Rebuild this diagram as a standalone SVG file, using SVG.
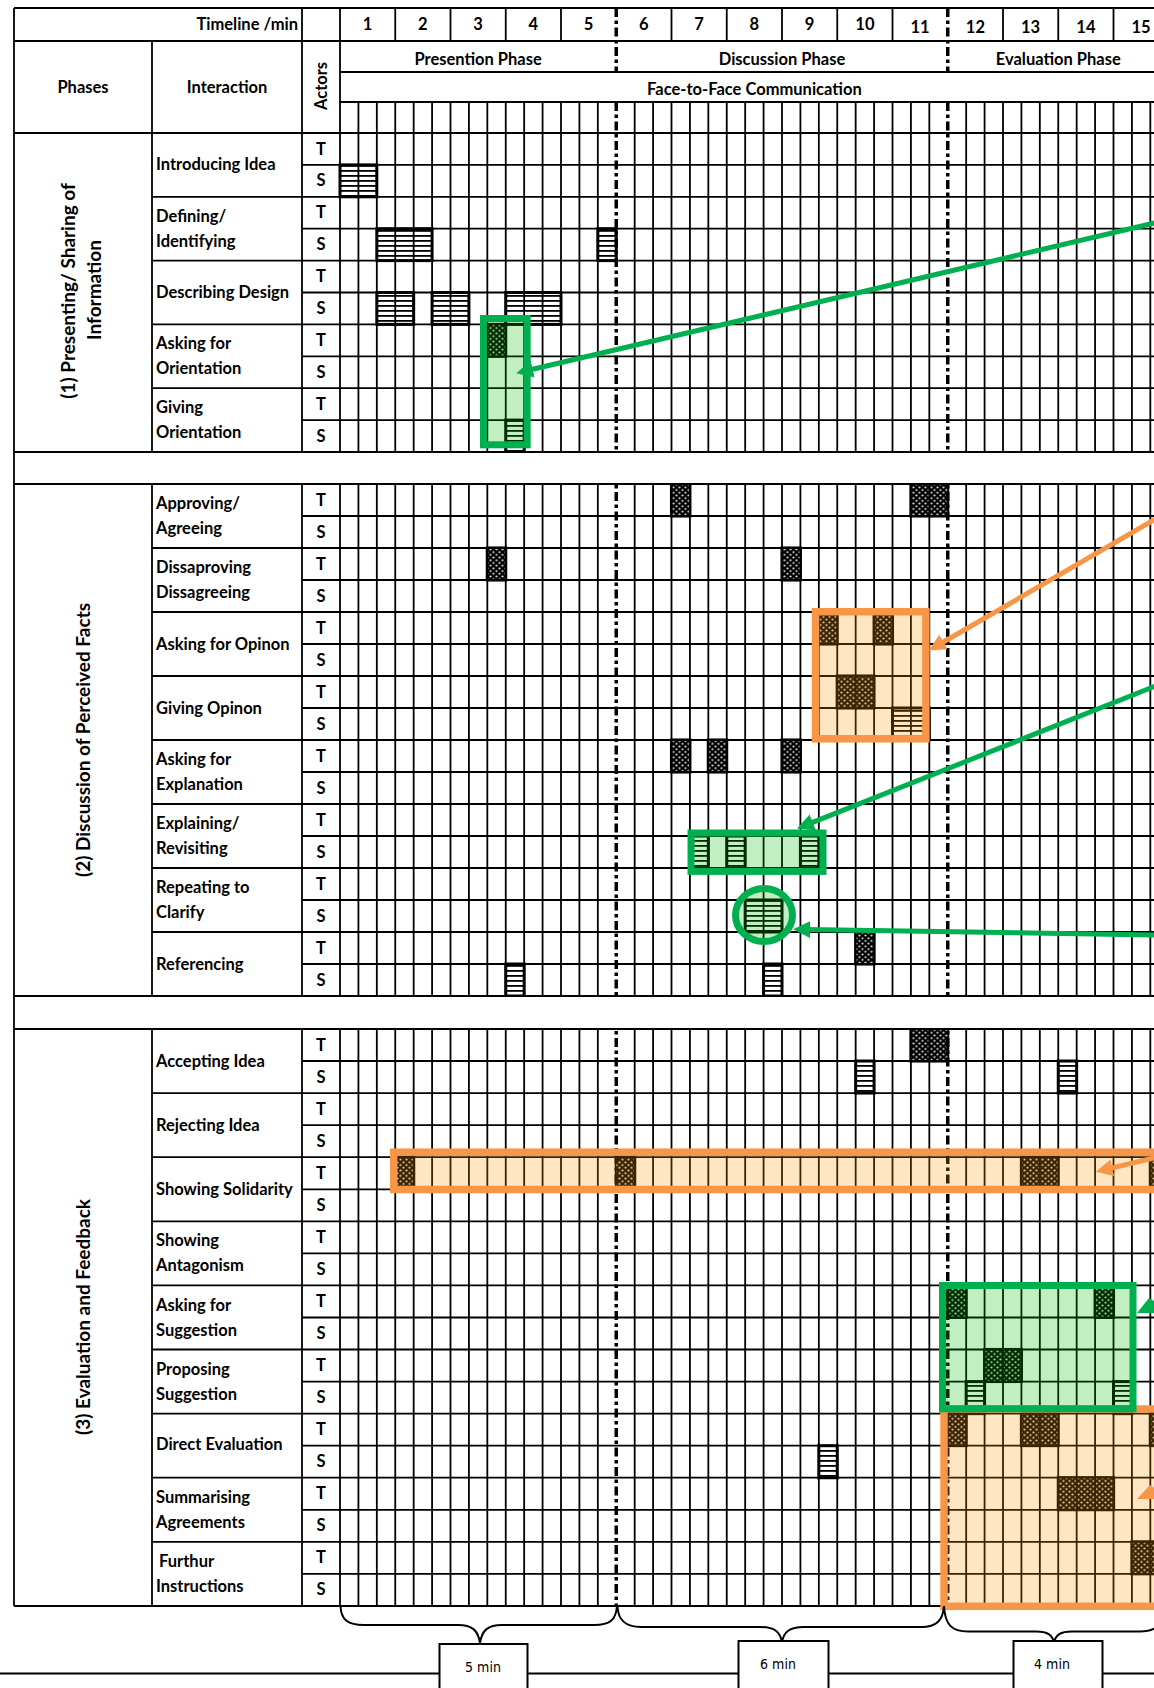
<svg xmlns="http://www.w3.org/2000/svg" width="1154" height="1688" viewBox="0 0 1154 1688">
<style>
.txt{font-family:Lato,"Open Sans","Liberation Sans",sans-serif;font-weight:700;font-size:16.5px;fill:#000}
.big{font-size:19px}
.mid{text-anchor:middle}
.end{text-anchor:end}
.ln{stroke:#000;stroke-width:1.8;fill:none}
.dash{stroke:#000;stroke-width:3.5;fill:none;stroke-dasharray:9 3.5 3.5 3.5}
.t{fill:url(#dots);stroke:#000;stroke-width:1.5}
.s{fill:url(#stripes);stroke:#000;stroke-width:3}
.gfill{fill:#00be00;fill-opacity:.24}
.ofill{fill:#ff9600;fill-opacity:.24}
.gframe{fill:none;stroke:#00b050;stroke-width:7}
.oframe{fill:none;stroke:#f79646;stroke-width:7.5}
.garrow{stroke:#00b050;stroke-width:5;fill:none;marker-end:url(#ahG)}
.oarrow{stroke:#f79646;stroke-width:5;fill:none;marker-end:url(#ahO)}
.brace{stroke:#000;stroke-width:2;fill:none}
.dur{font-family:"DejaVu Sans Condensed","Liberation Sans Narrow","Liberation Sans",sans-serif;font-stretch:condensed;font-size:14px;fill:#000;text-anchor:middle}
</style>
<defs>
  <pattern id="stripes" patternUnits="userSpaceOnUse" width="8" height="5">
    <rect width="8" height="5" fill="#fff"/>
    <rect width="8" height="1.8" fill="#000"/>
  </pattern>
  <pattern id="dots" patternUnits="userSpaceOnUse" width="6" height="5.4">
    <rect width="6" height="5.4" fill="#000"/>
    <ellipse cx="1.5" cy="1.3" rx="1.2" ry="0.85" fill="#d9d9d9"/>
    <ellipse cx="4.5" cy="4" rx="1.2" ry="0.85" fill="#d9d9d9"/>
  </pattern>
  <marker id="ahG" markerUnits="userSpaceOnUse" markerWidth="17" markerHeight="17" viewBox="0 0 16 16" refX="2" refY="8" orient="auto">
    <path d="M0,0 L16,8 L0,16 z" fill="#00b050"/>
  </marker>
  <marker id="ahO" markerUnits="userSpaceOnUse" markerWidth="17" markerHeight="17" viewBox="0 0 16 16" refX="2" refY="8" orient="auto">
    <path d="M0,0 L16,8 L0,16 z" fill="#f79646"/>
  </marker>
</defs>

<rect width="1154" height="1688" fill="#fff"/>

<!-- coded events: T = dark dotted, S = striped -->
<g id="events">
  <rect class="t" x="486.5" y="323.6" width="20" height="33.5"/>
  <rect class="t" x="670.7" y="483.2" width="20" height="33.6"/>
  <rect class="t" x="910.1" y="483.2" width="38.4" height="33.6"/>
  <rect class="t" x="486.5" y="547.2" width="20" height="33.6"/>
  <rect class="t" x="781.2" y="547.2" width="20" height="33.6"/>
  <rect class="t" x="818" y="611.2" width="20" height="33.6"/>
  <rect class="t" x="873.3" y="611.2" width="20" height="33.6"/>
  <rect class="t" x="836.4" y="675.2" width="38.4" height="33.6"/>
  <rect class="t" x="670.7" y="739.2" width="20" height="33.6"/>
  <rect class="t" x="707.5" y="739.2" width="20" height="33.6"/>
  <rect class="t" x="781.2" y="739.2" width="20" height="33.6"/>
  <rect class="t" x="854.9" y="931.2" width="20" height="33.6"/>
  <rect class="t" x="910.1" y="1028.2" width="38.4" height="33.6"/>
  <rect class="t" x="394.5" y="1156.4" width="20" height="33.6"/>
  <rect class="t" x="615.5" y="1156.4" width="20" height="33.6"/>
  <rect class="t" x="1020.6" y="1156.4" width="38.4" height="33.6"/>
  <rect class="t" x="1149.5" y="1156.4" width="20" height="33.6"/>
  <rect class="t" x="947" y="1284.6" width="20" height="33.6"/>
  <rect class="t" x="1094.3" y="1284.6" width="20" height="33.6"/>
  <rect class="t" x="983.8" y="1348.7" width="38.4" height="33.6"/>
  <rect class="t" x="947" y="1412.8" width="20" height="33.6"/>
  <rect class="t" x="1020.6" y="1412.8" width="38.4" height="33.6"/>
  <rect class="t" x="1149.5" y="1412.8" width="20" height="33.6"/>
  <rect class="t" x="1057.5" y="1476.9" width="56.9" height="33.6"/>
  <rect class="t" x="1131.1" y="1541" width="38.4" height="33.6"/>

  <rect class="s" x="340" y="164.9" width="36.83" height="31.9"/>
  <rect class="s" x="376.83" y="228.7" width="55.25" height="31.9"/>
  <rect class="s" x="597.83" y="228.7" width="18.42" height="31.9"/>
  <rect class="s" x="376.83" y="292.5" width="36.83" height="31.9"/>
  <rect class="s" x="432.08" y="292.5" width="36.83" height="31.9"/>
  <rect class="s" x="505.75" y="292.5" width="55.25" height="31.9"/>
  <rect class="s" x="505.75" y="420.1" width="18.42" height="31.9"/>
  <rect class="s" x="892.5" y="708" width="36.83" height="32"/>
  <rect class="s" x="689.92" y="836" width="18.42" height="32"/>
  <rect class="s" x="726.75" y="836" width="18.42" height="32"/>
  <rect class="s" x="800.42" y="836" width="18.42" height="32"/>
  <rect class="s" x="745.17" y="900" width="36.83" height="32"/>
  <rect class="s" x="505.75" y="964" width="18.42" height="32"/>
  <rect class="s" x="763.58" y="964" width="18.42" height="32"/>
  <rect class="s" x="855.67" y="1061" width="18.42" height="32.05"/>
  <rect class="s" x="1058.25" y="1061" width="18.42" height="32.05"/>
  <rect class="s" x="966.17" y="1381.6" width="18.42" height="32.05"/>
  <rect class="s" x="1113.5" y="1381.6" width="18.42" height="32.05"/>
  <rect class="s" x="818.83" y="1445.7" width="18.42" height="32.05"/>
</g>

<!-- table rules -->
<g id="grid">
  <path class="ln" d="M14 8V1606M152 41V1606M302 8V1606M340 8V1606
  M395.25 8V41M450.5 8V41M505.75 8V41M561 8V41M671.5 8V41M726.75 8V41M782 8V41M837.25 8V41M892.5 8V41M1003 8V41M1058.25 8V41M1113.5 8V41
  M358.42 102V1606M376.83 102V1606M395.25 102V1606M413.67 102V1606M432.08 102V1606M450.5 102V1606M468.92 102V1606M487.33 102V1606M505.75 102V1606M524.17 102V1606
  M542.58 102V1606M561 102V1606M579.42 102V1606M597.83 102V1606M634.67 102V1606M653.08 102V1606M671.5 102V1606M689.92 102V1606M708.33 102V1606M726.75 102V1606
  M745.17 102V1606M763.58 102V1606M782 102V1606M800.42 102V1606M818.83 102V1606M837.25 102V1606M855.67 102V1606M874.08 102V1606M892.5 102V1606M910.92 102V1606
  M929.33 102V1606M966.17 102V1606M984.58 102V1606M1003 102V1606M1021.42 102V1606M1039.83 102V1606M1058.25 102V1606M1076.67 102V1606M1095.08 102V1606M1113.5 102V1606
  M1131.92 102V1606M1150.33 102V1606"/>
  <path class="dash" d="M616.25 8V72M616.25 102V1606M947.75 8V72M947.75 102V1606"/>
  <rect x="15" y="453" width="1160" height="30" fill="#fff"/>
  <rect x="15" y="997" width="1160" height="31" fill="#fff"/>
  <path class="ln" d="M14 8H1169M14 41H1169M340 72H1169M340 102H1169
  M14 133H1169M302 164.9H1169M152 196.8H1169M302 228.7H1169M152 260.6H1169M302 292.5H1169M152 324.4H1169M302 356.3H1169M152 388.2H1169M302 420.1H1169M14 452H1169
  M14 484H1169M302 516H1169M152 548H1169M302 580H1169M152 612H1169M302 644H1169M152 676H1169M302 708H1169M152 740H1169M302 772H1169M152 804H1169M302 836H1169M152 868H1169M302 900H1169M152 932H1169M302 964H1169M14 996H1169
  M14 1029H1169M302 1061H1169M152 1093.1H1169M302 1125.2H1169M152 1157.2H1169M302 1189.3H1169M152 1221.3H1169M302 1253.4H1169M152 1285.4H1169M302 1317.5H1169M152 1349.5H1169M302 1381.6H1169M152 1413.6H1169M302 1445.7H1169M152 1477.7H1169M302 1509.8H1169M152 1541.8H1169M302 1573.9H1169M14 1606H1169"/>
</g>

<!-- header -->
<g id="header" class="txt">
  <text class="end" x="298" y="30">Timeline /min</text>
  <text class="mid" x="367.6" y="30">1</text>
  <text class="mid" x="422.9" y="30">2</text>
  <text class="mid" x="478.1" y="30">3</text>
  <text class="mid" x="533.4" y="30">4</text>
  <text class="mid" x="588.6" y="30">5</text>
  <text class="mid" x="643.9" y="30">6</text>
  <text class="mid" x="699.1" y="30">7</text>
  <text class="mid" x="754.4" y="30">8</text>
  <text class="mid" x="809.6" y="30">9</text>
  <text class="mid" x="864.9" y="30">10</text>
  <text class="mid" x="920.1" y="32.5">11</text>
  <text class="mid" x="975.4" y="32.5">12</text>
  <text class="mid" x="1030.6" y="32.5">13</text>
  <text class="mid" x="1085.9" y="32.5">14</text>
  <text class="mid" x="1141.1" y="32.5">15</text>
  <text class="mid" x="478.1" y="65">Presention Phase</text>
  <text class="mid" x="782" y="65">Discussion Phase</text>
  <text class="mid" x="1058.25" y="65">Evaluation Phase</text>
  <text class="mid" x="754.4" y="95">Face-to-Face Communication</text>
  <text class="mid" x="83" y="93">Phases</text>
  <text class="mid" x="227" y="93">Interaction</text>
  <text class="mid" transform="translate(327,86) rotate(-90)">Actors</text>
</g>

<!-- phase 1 -->
<g id="phase-1" class="txt">
  <text class="mid big" transform="translate(75,291) rotate(-90)">(1) Presenting/ Sharing of</text>
  <text class="mid big" transform="translate(101,290) rotate(-90)">Information</text>
  <text x="156" y="170.4">Introducing Idea</text>
  <text x="156" y="221.7">Defining/</text>
  <text x="156" y="246.7">Identifying</text>
  <text x="156" y="298">Describing Design</text>
  <text x="156" y="349.3">Asking for</text>
  <text x="156" y="374.3">Orientation</text>
  <text x="156" y="413.1">Giving</text>
  <text x="156" y="438.1">Orientation</text>
  <g class="mid">
    <text x="321" y="154.5">T</text><text x="321" y="186.4">S</text>
    <text x="321" y="218.3">T</text><text x="321" y="250.2">S</text>
    <text x="321" y="282.1">T</text><text x="321" y="314">S</text>
    <text x="321" y="345.9">T</text><text x="321" y="377.8">S</text>
    <text x="321" y="409.7">T</text><text x="321" y="441.6">S</text>
  </g>
</g>

<!-- phase 2 -->
<g id="phase-2" class="txt">
  <text class="mid big" transform="translate(90,740) rotate(-90)">(2) Discussion of Perceived Facts</text>
  <text x="156" y="509">Approving/</text>
  <text x="156" y="534">Agreeing</text>
  <text x="156" y="573">Dissaproving</text>
  <text x="156" y="598">Dissagreeing</text>
  <text x="156" y="649.5">Asking for Opinon</text>
  <text x="156" y="713.5">Giving Opinon</text>
  <text x="156" y="765">Asking for</text>
  <text x="156" y="790">Explanation</text>
  <text x="156" y="829">Explaining/</text>
  <text x="156" y="854">Revisiting</text>
  <text x="156" y="893">Repeating to</text>
  <text x="156" y="918">Clarify</text>
  <text x="156" y="969.5">Referencing</text>
  <g class="mid">
    <text x="321" y="505.5">T</text><text x="321" y="537.5">S</text>
    <text x="321" y="569.5">T</text><text x="321" y="601.5">S</text>
    <text x="321" y="633.5">T</text><text x="321" y="665.5">S</text>
    <text x="321" y="697.5">T</text><text x="321" y="729.5">S</text>
    <text x="321" y="761.5">T</text><text x="321" y="793.5">S</text>
    <text x="321" y="825.5">T</text><text x="321" y="857.5">S</text>
    <text x="321" y="889.5">T</text><text x="321" y="921.5">S</text>
    <text x="321" y="953.5">T</text><text x="321" y="985.5">S</text>
  </g>
</g>

<!-- phase 3 -->
<g id="phase-3" class="txt">
  <text class="mid big" transform="translate(90,1317) rotate(-90)">(3) Evaluation and Feedback</text>
  <text x="156" y="1066.5">Accepting Idea</text>
  <text x="156" y="1130.7">Rejecting Idea</text>
  <text x="156" y="1194.8">Showing Solidarity</text>
  <text x="156" y="1246.4">Showing</text>
  <text x="156" y="1271.4">Antagonism</text>
  <text x="156" y="1310.5">Asking for</text>
  <text x="156" y="1335.5">Suggestion</text>
  <text x="156" y="1374.6">Proposing</text>
  <text x="156" y="1399.6">Suggestion</text>
  <text x="156" y="1450">Direct Evaluation</text>
  <text x="156" y="1502.8">Summarising</text>
  <text x="156" y="1527.8">Agreements</text>
  <text x="159" y="1566.9">Furthur</text>
  <text x="156" y="1591.9">Instructions</text>
  <g class="mid">
    <text x="321" y="1050.5">T</text><text x="321" y="1082.6">S</text>
    <text x="321" y="1114.6">T</text><text x="321" y="1146.7">S</text>
    <text x="321" y="1178.7">T</text><text x="321" y="1210.8">S</text>
    <text x="321" y="1242.8">T</text><text x="321" y="1274.9">S</text>
    <text x="321" y="1306.9">T</text><text x="321" y="1339">S</text>
    <text x="321" y="1371">T</text><text x="321" y="1403.1">S</text>
    <text x="321" y="1435.1">T</text><text x="321" y="1467.2">S</text>
    <text x="321" y="1499.2">T</text><text x="321" y="1531.3">S</text>
    <text x="321" y="1563.3">T</text><text x="321" y="1595.4">S</text>
  </g>
</g>

<!-- highlighted episodes -->
<g id="hl-orientation">
  <rect class="gfill" x="483.5" y="318.5" width="43.7" height="126.3"/>
  <rect class="gframe" x="483.5" y="318.5" width="43.7" height="126.3"/>
</g>
<g id="hl-opinion">
  <rect class="ofill" x="815.5" y="611.7" width="110.4" height="127.1"/>
  <rect class="oframe" x="815.5" y="611.7" width="110.4" height="127.1"/>
</g>
<g id="hl-explaining">
  <rect class="gfill" x="691" y="833" width="132" height="38.4"/>
  <rect class="gframe" x="691" y="833" width="132" height="38.4"/>
</g>
<g id="hl-clarify">
  <ellipse class="gfill" cx="764" cy="915" rx="28.5" ry="26.5"/>
  <ellipse class="gframe" cx="764" cy="915" rx="28.5" ry="26.5"/>
</g>
<g id="hl-solidarity">
  <rect class="ofill" x="393.7" y="1152.2" width="800" height="37.3"/>
  <rect class="oframe" x="393.7" y="1152.2" width="800" height="37.3"/>
</g>
<g id="hl-evaluation">
  <rect class="ofill" x="944" y="1409" width="300" height="197.3"/>
  <rect class="oframe" x="944" y="1409" width="300" height="197.3"/>
</g>
<g id="hl-suggestion">
  <rect class="gfill" x="942.5" y="1285.5" width="190.5" height="123.3"/>
  <rect class="gframe" x="942.5" y="1285.5" width="190.5" height="123.3"/>
</g>

<!-- pointers -->
<g id="connectors">
  <path class="garrow" d="M1170 219.3L530.6 369.8"/>
  <path class="oarrow" d="M1170 510.7L941.7 643"/>
  <path class="garrow" d="M1170 680.3L810.8 823.1"/>
  <path class="garrow" d="M1170 935.3L808 929.5"/>
  <path class="oarrow" d="M1175 1152.9L1110.3 1168.4"/>
  <polygon points="1137,1313 1149,1298 1154,1301 1154,1313" fill="#00b050"/>
  <polygon points="1137,1499 1150,1485 1154,1488 1154,1499" fill="#f79646"/>
</g>

<!-- phase durations -->
<g id="braces">
  <path class="brace" d="M340.5 1606C341 1620 348 1625 364 1625L458 1625C472 1625 478 1630 480 1643C482 1630 488 1625 502 1625L594 1625C610 1625 616 1620 617 1606"/>
  <path class="brace" d="M617.5 1606C618 1620 625 1627 641 1627L760 1627C775 1627 780 1632 782 1642C784 1632 789 1627 804 1627L921 1627C937 1627 943 1620 944 1606"/>
  <path class="brace" d="M944 1606C945 1625 952 1631.5 968 1631.5L1036 1631.5C1048 1631.5 1052 1635 1054 1642C1056 1635 1060 1631.5 1072 1631.5L1140 1631.5C1156 1631.5 1163 1625 1164 1606"/>
</g>
<g id="durations">
  <path class="brace" d="M0 1673.5H1154"/>
  <g id="dur-5">
    <rect x="439.5" y="1644" width="88" height="60" fill="#fff" stroke="#000" stroke-width="2"/>
    <text class="dur" x="483" y="1672">5 min</text>
  </g>
  <g id="dur-6">
    <rect x="738.5" y="1641" width="90" height="60" fill="#fff" stroke="#000" stroke-width="2"/>
    <text class="dur" x="778" y="1669">6 min</text>
  </g>
  <g id="dur-4">
    <rect x="1013.5" y="1641" width="89" height="60" fill="#fff" stroke="#000" stroke-width="2"/>
    <text class="dur" x="1052" y="1669">4 min</text>
  </g>
</g>
</svg>
